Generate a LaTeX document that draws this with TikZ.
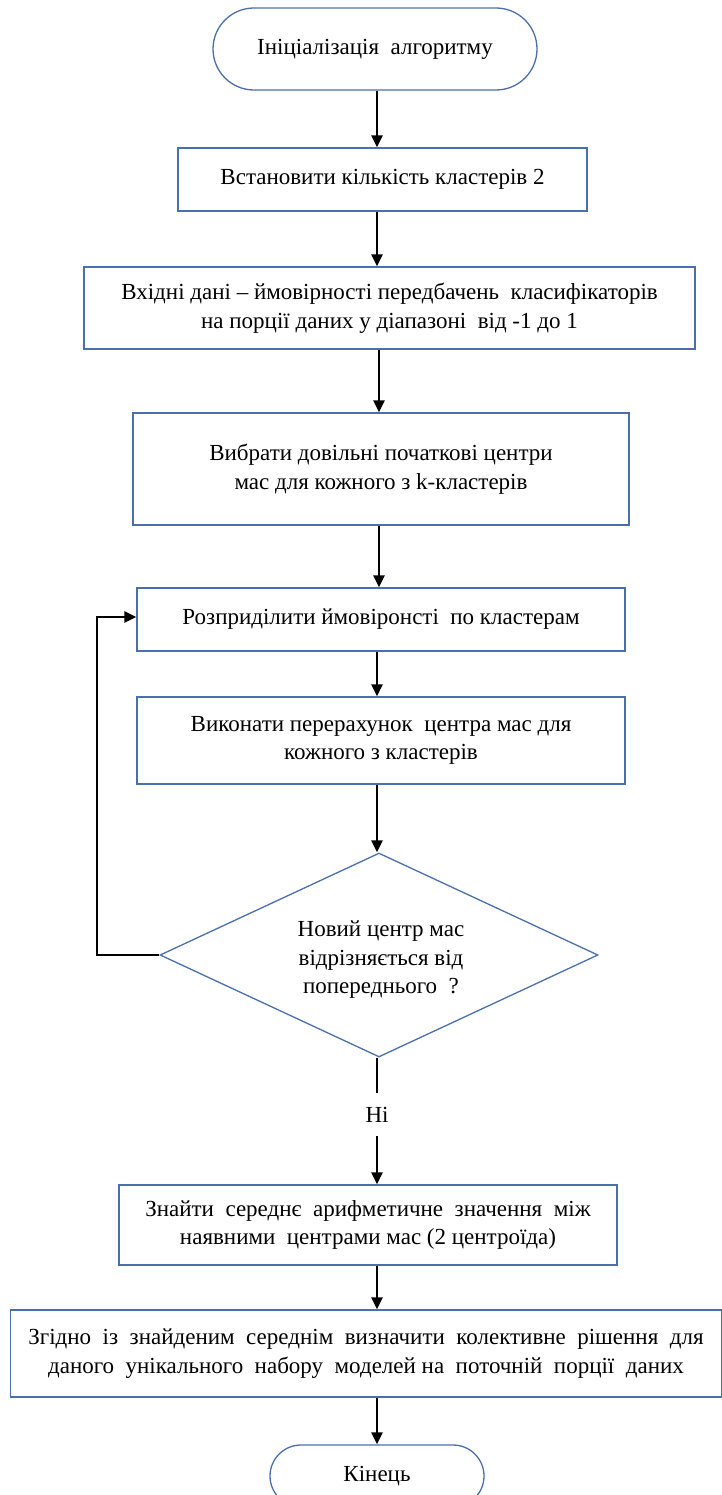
\documentclass[tikz,border=0pt]{standalone}
\usepackage{fontspec}
\setmainfont{Liberation Serif}
\usetikzlibrary{shapes.geometric,shapes.misc,arrows.meta}
\definecolor{bl}{HTML}{4A6FAF}
\begin{document}
\begin{tikzpicture}[x=1pt,y=-1pt,
  txt/.style={font=\fontsize{23}{28.5}\selectfont,align=center},
  box/.style={txt,draw=bl,line width=1.3pt,rectangle,inner sep=0pt},
  term/.style={txt,draw=bl,line width=1.3pt,rounded rectangle,inner sep=0pt},
  dia/.style={draw=bl,line width=1.3pt,diamond,inner sep=0pt},
  arr/.style={line width=2.6pt,-{Triangle[length=12pt,width=11pt]}},
  ln/.style={line width=2.6pt}]
\useasboundingbox (0,0) rectangle (722,1495);
\clip (0,0) rectangle (722,1495);
\node[term,minimum width=324pt,minimum height=82pt] (start) at (375,49) {Ініціалізація\ \ алгоритму};
\node[box,minimum width=409pt,minimum height=63pt] (b1) at (382.5,179.5) {Встановити кількість кластерів 2};
\node[box,minimum width=611pt,minimum height=82pt] (b2) at (389.5,308) {Вхідні дані -- ймовірності передбачень\ \ класифікаторів\\на порції даних у діапазоні\ \ від -1 до 1};
\node[box,minimum width=496pt,minimum height=112pt] (b3) at (381,469) {Вибрати довільні початкові центри\\мас для кожного з k-кластерів};
\node[box,minimum width=488pt,minimum height=63pt] (b4) at (381,619.5) {Розприділити ймовіронсті\ \ по кластерам};
\node[box,minimum width=488pt,minimum height=87pt] (b5) at (381,740.5) {Виконати перерахунок\ \ центра мас для\\кожного з кластерів};
\node[dia,minimum width=438pt,minimum height=204pt] (d) at (379,955) {};
\node[txt] (dt) at (381,960) {Новий центр мас\\відрізняється від\\попереднього\ \ ?};
\node[txt] (hi) at (377,1115) {Ні};
\node[box,minimum width=498pt,minimum height=80pt] (b6) at (368,1225) {Знайти\ \ середнє\ \ арифметичне\ \ значення\ \ між\\наявними\ \ центрами мас (2 центроїда)};
\node[box,minimum width=711pt,minimum height=87pt] (b7) at (366,1353.5) {Згідно\ \ із\ \ знайденим\ \ середнім\ \ визначити\ \ колективне\ \ рішення\ \ для\\даного\ \ унікального\ \ набору\ \ моделей на\ \ поточній\ \ порції\ \ даних};
\node[term,minimum width=214pt,minimum height=62pt] (end) at (377,1476) {Кінець};
\draw[arr] (start.south -| 377,0) -- (b1.north -| 377,0);
\draw[arr] (b1.south -| 377,0) -- (b2.north -| 377,0);
\draw[arr] (b2.south -| 379,0) -- (b3.north -| 379,0);
\draw[arr] (b3.south -| 379,0) -- (b4.north -| 379,0);
\draw[arr] (b4.south -| 377,0) -- (b5.north -| 377,0);
\draw[arr] (b5.south -| 377,0) -- (d.north -| 377,0);
\draw[ln] (d.south -| 377,0) -- (377,1093);
\draw[arr] (377,1136) -- (b6.north -| 377,0);
\draw[arr] (b6.south -| 377,0) -- (b7.north -| 377,0);
\draw[arr] (b7.south -| 377,0) -- (end.north -| 377,0);
\draw[arr] (d.west) -- (97,955) |- ([yshift=2.5pt]b4.west);
\end{tikzpicture}
\end{document}
